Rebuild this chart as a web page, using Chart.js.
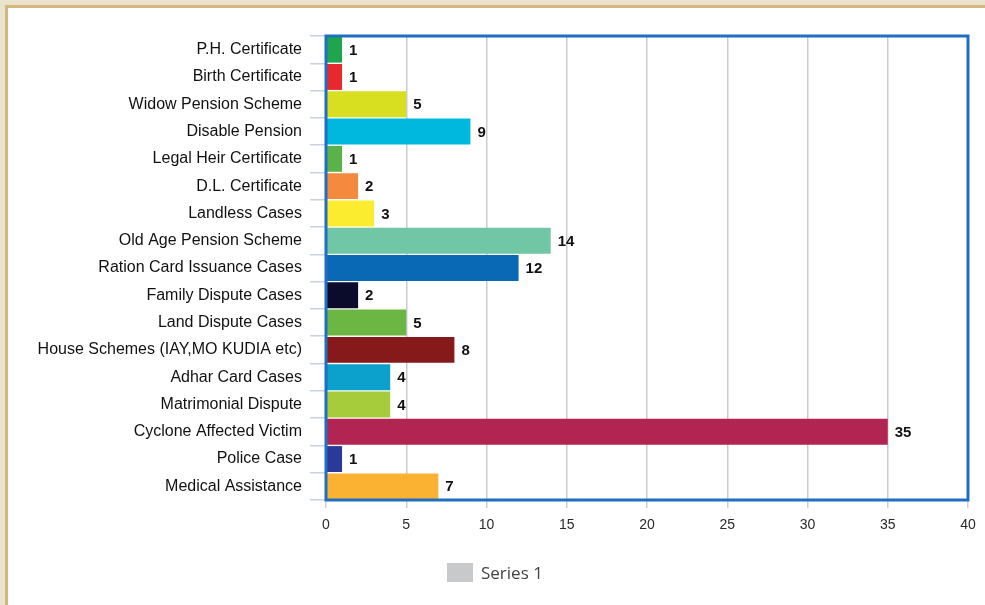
<!DOCTYPE html>
<html>
<head>
<meta charset="utf-8">
<title>Grievance Cases</title>
<script src="https://cdn.jsdelivr.net/npm/chart.js@4.4.1/dist/chart.umd.min.js"></script>
<style>
  html, body { margin: 0; padding: 0; }
  body {
    width: 985px; height: 605px; overflow: hidden; position: relative;
    background: #ebe3cd;
  }
  #panel {
    position: absolute; left: 5px; top: 5px; right: -10px; bottom: -10px;
    background: #fff;
    border-left: 3px solid #d3b87d;
    border-top: 3px solid #d3b87d;
  }
  #wrap { position: absolute; left: 0; top: 0; width: 985px; height: 605px; }
</style>
</head>
<body>
<div id="panel"></div>
<div id="wrap"><canvas id="barChart"></canvas></div>
<script>
// categories, top to bottom
var categories = [
  'P.H. Certificate',
  'Birth Certificate',
  'Widow Pension Scheme',
  'Disable Pension',
  'Legal Heir Certificate',
  'D.L. Certificate',
  'Landless Cases',
  'Old Age Pension Scheme',
  'Ration Card Issuance Cases',
  'Family Dispute Cases',
  'Land Dispute Cases',
  'House Schemes (IAY,MO KUDIA etc)',
  'Adhar Card Cases',
  'Matrimonial Dispute',
  'Cyclone Affected Victim',
  'Police Case',
  'Medical Assistance'
];

var caseCounts = [1, 1, 5, 9, 1, 2, 3, 14, 12, 2, 5, 8, 4, 4, 35, 1, 7];

var barColors = [
  '#1fa54c', '#e8282c', '#d8de20', '#00b8de', '#5bb249', '#f48a3e',
  '#fbec2f', '#70c6a5', '#0a69b4', '#0b0b2c', '#6cb744', '#861a1b',
  '#0ba1cc', '#a6cc3b', '#b22451', '#2a3a9a', '#fbb233'
];

var xTicks = [0, 5, 10, 15, 20, 25, 30, 35, 40];

var seriesName = 'Series 1';

var sansFont = 'Arial, Helvetica, sans-serif';

// blue frame around the plot area plus the value next to each bar
var framePlugin = {
  id: 'frameAndValues',
  afterDatasetsDraw: function(chart) {
    var ctx = chart.ctx;
    var a = chart.chartArea;
    ctx.save();
    ctx.strokeStyle = '#1f6fc1';
    ctx.lineWidth = 3;
    ctx.strokeRect(a.left, a.top, a.right - a.left, a.bottom - a.top);

    ctx.fillStyle = '#111';
    ctx.font = 'bold 15px ' + sansFont;
    ctx.textAlign = 'left';
    ctx.textBaseline = 'middle';
    chart.getDatasetMeta(0).data.forEach(function(bar, i) {
      ctx.fillText(String(caseCounts[i]), bar.x + 7, bar.y + 1);
    });
    ctx.restore();
  },
  afterDraw: function(chart) {
    // legend
    var ctx = chart.ctx;
    ctx.save();
    ctx.fillStyle = '#c8c9cb';
    ctx.fillRect(447, 563, 26, 19);
    ctx.fillStyle = '#444';
    ctx.font = '17px "Open Sans", sans-serif';
    ctx.textAlign = 'left';
    ctx.textBaseline = 'middle';
    ctx.fillText(seriesName, 481, 574);
    ctx.restore();
  }
};

var ctx = document.getElementById('barChart').getContext('2d');
new Chart(ctx, {
  type: 'bar',
  data: {
    labels: categories,
    datasets: [{
      label: seriesName,
      data: caseCounts,
      backgroundColor: barColors,
      borderWidth: 0,
      barPercentage: 0.95,
      categoryPercentage: 1
    }]
  },
  options: {
    indexAxis: 'y',
    responsive: true,
    maintainAspectRatio: false,
    animation: false,
    layout: { padding: { top: 36, right: 17, left: 0, bottom: 0 } },
    plugins: {
      legend: { display: false },
      tooltip: { enabled: false }
    },
    scales: {
      x: {
        min: 0,
        max: 40,
        afterBuildTicks: function(scale) {
          scale.ticks = xTicks.map(function(v) { return { value: v }; });
        },
        afterFit: function(scale) { scale.height = 105; },
        border: { display: false },
        grid: {
          color: '#c9cbcf',
          lineWidth: 1.5,
          tickLength: 8,
          tickColor: '#c8d2e0'
        },
        ticks: {
          padding: 9,
          color: '#2a2a2a',
          font: { family: sansFont, size: 14 }
        }
      },
      y: {
        afterFit: function(scale) { scale.width = 326; },
        border: { display: false },
        grid: {
          drawOnChartArea: false,
          tickLength: 16,
          tickColor: '#c8d2e0',
          lineWidth: 1.5
        },
        ticks: {
          padding: 8,
          color: '#111',
          autoSkip: false,
          font: { family: sansFont, size: 16 }
        }
      }
    }
  },
  plugins: [framePlugin]
});
</script>
</body>
</html>
